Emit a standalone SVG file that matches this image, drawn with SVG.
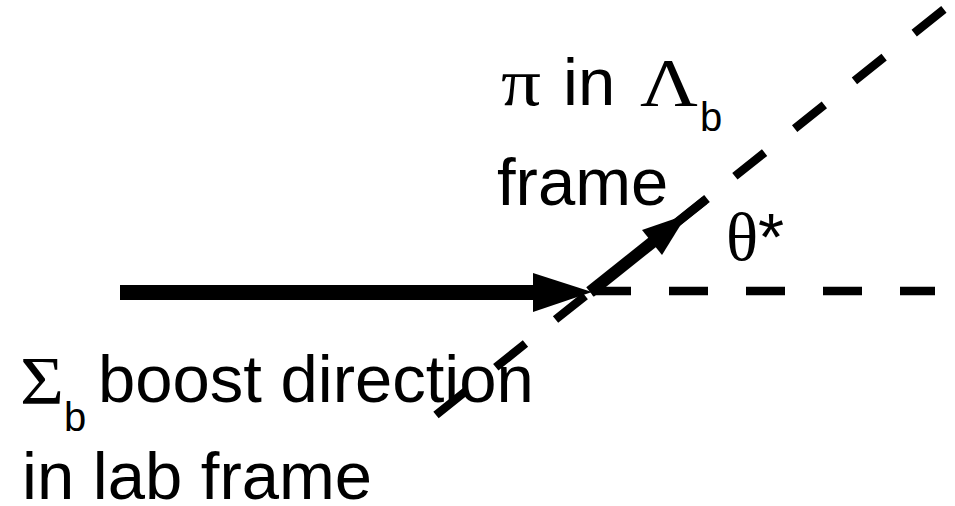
<svg xmlns="http://www.w3.org/2000/svg" width="955" height="506" viewBox="0 0 955 506">
<style>
.t{font-family:"Liberation Sans",Arial,sans-serif;font-size:67px;fill:#000}
.g{font-family:"Liberation Serif","Times New Roman",serif;font-size:67px;fill:#000}
.s{font-family:"Liberation Sans",Arial,sans-serif;font-size:40px;fill:#000}
.dash{stroke:#000;fill:none;stroke-width:8.5}
</style>
<rect width="955" height="506" fill="#fff"/>
<g id="connectors">
<line class="dash" x1="436" y1="415" x2="945.6" y2="8" stroke-dasharray="38 38.5"/>
<line class="dash" x1="592" y1="291" x2="935" y2="291" stroke-dasharray="39 38"/>
<line x1="120" y1="292.5" x2="540" y2="292.5" stroke="#000" stroke-width="15"/>
<polygon points="533,273 592,292 533,312" fill="#000"/>
<line x1="590" y1="292" x2="653" y2="241.7" stroke="#000" stroke-width="12"/>
<line x1="650" y1="244" x2="707" y2="198.4" stroke="#000" stroke-width="9"/>
<polygon points="642,230 687,214.6 662,255" fill="#000"/>
</g>
<g id="label-pi">
<text class="g" x="501" y="105" textLength="40" lengthAdjust="spacingAndGlyphs">π</text>
<text class="t" x="563" y="105">in</text>
<text class="g" x="640" y="105" textLength="58" lengthAdjust="spacingAndGlyphs">Λ</text>
<text class="s" x="700" y="131">b</text>
<text class="t" x="497" y="205">frame</text>
</g>
<g id="label-theta">
<text x="726" y="260"><tspan class="g">θ</tspan><tspan class="t">*</tspan></text>
</g>
<g id="label-sigma">
<text class="g" x="20" y="403" textLength="44" lengthAdjust="spacingAndGlyphs">Σ</text>
<text class="s" x="64" y="431">b</text>
<text class="t" x="98" y="402">boost direction</text>
<text class="t" x="22" y="499">in lab frame</text>
</g>
</svg>
